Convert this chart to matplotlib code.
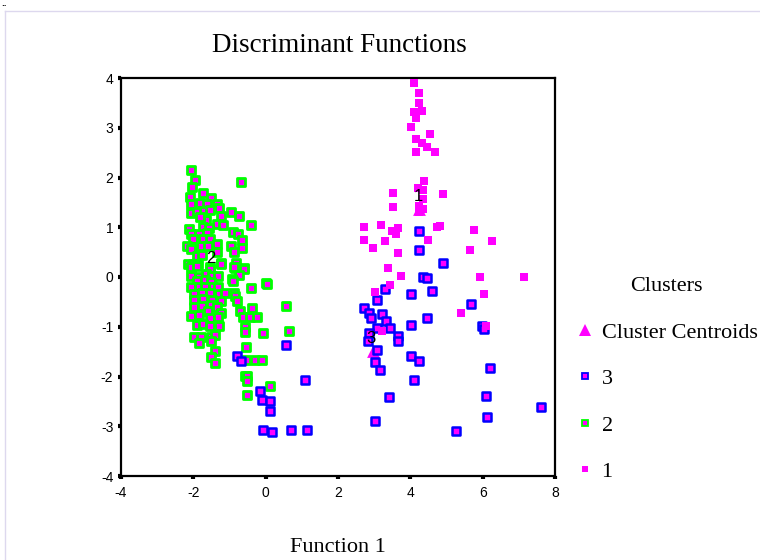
import matplotlib
matplotlib.use("Agg")
import matplotlib.pyplot as plt
from matplotlib.lines import Line2D

# ---------------- data ----------------
cluster1_f1 = [4.09, 4.25, 4.25, 4.09, 4.31, 4.17, 4.01, 4.53, 4.17, 4.31, 4.45, 4.17, 4.67,
               4.39, 4.20, 4.34, 3.51, 4.89, 4.34, 3.51, 4.23, 4.34, 4.25,
               2.71, 3.20, 3.48, 3.67, 3.59, 2.73, 3.31, 4.75, 4.50, 2.96, 3.65, 3.37, 3.73,
               3.45, 3.01, 3.23,
               4.81, 5.77, 6.27, 5.64, 5.94, 7.15, 6.05, 5.39, 6.10]
cluster1_f2 = [3.90, 3.70, 3.50, 3.32, 3.34, 3.20, 3.02, 2.87, 2.77, 2.69, 2.61, 2.51, 2.51,
               1.93, 1.79, 1.75, 1.69, 1.67, 1.57, 1.41, 1.43, 1.37, 1.31,
               1.01, 1.05, 0.92, 0.98, 0.86, 0.74, 0.72, 1.01, 0.74, 0.58, 0.48, 0.18, 0.02,
               -0.16, -0.30, -1.09,
               1.03, 0.94, 0.72, 0.54, 0.00, 0.00, -0.34, -0.72, -0.98]

cluster2_f1 = [-2.07, -1.96, -2.04, -0.69, -2.10, -1.74, -1.52, -2.07, -1.82, -1.63, -1.35, -1.30,
               -2.07, -1.91, -1.71, -1.55, -0.97, -0.75, -1.24, -1.66, -1.82, -1.35, -1.19, -0.41,
               -1.74, -1.57, -2.13, -0.91, -0.77, -0.66, -2.07, -1.85, -1.63, -2.02, -1.74, -1.55,
               -1.35, -0.97, -2.18, -1.99, -1.80, -1.60, -0.66, -0.88, -1.35, -2.07, -1.91, -1.77,
               -1.24, -0.83, -2.15, -2.02, -1.88, -1.55, -0.86, -0.61,
               -2.07, -1.91, -1.55, -1.24, -0.88, -0.61, -2.07, -1.85, -1.66, -1.49, -1.33, -0.75,
               -0.94, -1.91, -1.69, -1.52, -2.07, -1.85, -1.69, -1.46, -1.33, -0.41, 0.00, -1.99,
               -1.77, -1.55, -1.30, -1.13, -0.88, -1.99, -1.74, -1.49, -1.24, -0.86, -0.80, -1.99,
               -1.77, -1.52, -1.35, -0.39, -0.72, -2.07, -1.85, -1.60, -1.24, -0.64, -0.44, -0.25,
               -1.91, -1.55, -1.33, -1.74, -1.55, -1.30, -0.58, -0.58, -0.08, -1.99, -1.80, -1.52,
               -1.41, -1.85, -1.52, -0.55, -1.41, -1.52, -1.41, -0.55, -0.30, -0.11,
               0.03, 0.55, -0.91, 0.64, -0.58, -0.52, -0.52, 0.11, -0.52]
cluster2_f2 = [2.15, 1.95, 1.81, 1.91, 1.61, 1.69, 1.59, 1.47, 1.49, 1.47, 1.47, 1.39,
               1.29, 1.31, 1.33, 1.35, 1.31, 1.23, 1.23, 1.15, 1.21, 1.07, 1.05, 1.05,
               1.01, 0.98, 0.96, 0.90, 0.86, 0.74, 0.86, 0.86, 0.88, 0.76, 0.76, 0.76,
               0.66, 0.62, 0.62, 0.60, 0.62, 0.62, 0.58, 0.50, 0.50, 0.56, 0.42, 0.44,
               0.28, 0.28, 0.26, 0.26, 0.26, 0.20, 0.18, 0.18,
               0.20, 0.22, 0.16, 0.26, 0.20, 0.16, 0.02, 0.00, 0.06, 0.02, 0.02, 0.04,
               -0.04, -0.08, -0.06, -0.10, -0.20, -0.20, -0.20, -0.20, -0.20, -0.22, -0.12, -0.34,
               -0.32, -0.32, -0.34, -0.32, -0.32, -0.46, -0.44, -0.46, -0.48, -0.38, -0.48, -0.60,
               -0.58, -0.56, -0.60, -0.62, -0.68, -0.78, -0.76, -0.68, -0.72, -0.80, -0.80, -0.80,
               -0.96, -0.82, -0.80, -0.94, -0.98, -0.98, -1.01, -1.11, -1.13, -1.21, -1.21, -1.21,
               -1.17, -1.33, -1.29, -1.41, -1.49, -1.61, -1.73, -1.67, -1.67, -1.67,
               -0.14, -0.58, -0.08, -1.09, -1.99, -1.99, -2.09, -2.19, -2.37]

cluster3_f1 = [-0.80, -0.69, 0.55, 1.08, -0.17, -0.11, 0.11, 0.11, -0.08, 0.17, 0.69, 1.13,
               4.23, 4.23, 4.89, 4.34, 4.45, 3.31, 4.59, 4.03, 3.07, 2.73, 2.85, 2.90, 3.23,
               3.34, 3.45, 3.07, 2.87, 2.82, 3.67, 3.67, 4.01, 4.45, 3.07, 3.01, 3.15, 4.03,
               4.25, 4.09, 3.40, 3.01, 5.69, 5.97, 6.05, 6.19, 6.10, 6.13, 7.60, 5.25]
cluster3_f2 = [-1.59, -1.69, -1.37, -2.07, -2.29, -2.47, -2.49, -2.69, -3.08, -3.12, -3.08, -3.08,
               0.92, 0.54, 0.28, 0.00, -0.02, -0.24, -0.28, -0.34, -0.46, -0.62, -0.72, -0.82, -0.74,
               -0.88, -1.03, -1.03, -1.13, -1.29, -1.19, -1.29, -0.96, -0.82, -1.47, -1.71, -1.87, -1.59,
               -1.69, -2.07, -2.41, -2.89, -0.54, -0.98, -1.05, -1.83, -2.39, -2.81, -2.61, -3.10]

centroid_labels = ["1", "2", "3"]
centroid_f1 = [4.25, -1.49, 2.96]
centroid_f2 = [1.37, 0.12, -1.49]

x_ticks = [-4, -2, 0, 2, 4, 6, 8]
y_ticks = [-4, -3, -2, -1, 0, 1, 2, 3, 4]
legend_labels = ["Cluster Centroids", "3", "2", "1"]

MAGENTA = "#ff00ff"
GREEN = "#00ff00"
BLUE = "#0000ff"

# ---------------- figure ----------------
fig = plt.figure(figsize=(7.6, 5.6), dpi=100)
ax = fig.add_axes([121 / 760, 1 - 476 / 560, (555 - 121) / 760, (476 - 78) / 560])

ax.scatter(centroid_f1, centroid_f2, marker="^", s=85, color=MAGENTA, zorder=2, linewidths=0)
ax.scatter(cluster2_f1, cluster2_f2, marker="s", s=30, facecolor=MAGENTA,
           edgecolor=GREEN, linewidths=2.0, zorder=3)
ax.scatter(cluster3_f1, cluster3_f2, marker="s", s=30, facecolor=MAGENTA,
           edgecolor=BLUE, linewidths=1.8, zorder=4)
ax.scatter(cluster1_f1, cluster1_f2, marker="s", s=32, color=MAGENTA, linewidths=0, zorder=5)

for lab, cx, cy in zip(centroid_labels, centroid_f1, centroid_f2):
    ax.annotate(lab, (cx, cy), xytext=(-1, 9), textcoords="offset points",
                ha="center", va="center", fontsize=12, family="Liberation Sans", zorder=6)

ax.set_xlim(-4, 8)
ax.set_ylim(-4, 4)
ax.set_xticks(x_ticks)
ax.set_yticks(y_ticks)
ax.set_xticklabels([str(t) for t in x_ticks], family="Liberation Sans", fontsize=10)
ax.set_yticklabels([str(t) for t in y_ticks], family="Liberation Sans", fontsize=10)
ax.tick_params(direction="out", length=2.5, width=3, color="black", pad=3)
ax.tick_params(axis="x", pad=5)
for sp in ax.spines.values():
    sp.set_linewidth(1.6)
    sp.set_color("black")

fig.text(339 / 760, 1 - 46 / 560, "Discriminant Functions", ha="center", va="center",
         fontsize=19.5, family="Liberation Serif")
fig.text(338 / 760, 1 - 547 / 560, "Function 1", ha="center", va="center",
         fontsize=16, family="Liberation Serif")

handles = [
    Line2D([], [], ls="none", marker="^", markersize=9, color=MAGENTA, markeredgewidth=0),
    Line2D([], [], ls="none", marker="s", markersize=4.5, markerfacecolor=MAGENTA,
           markeredgecolor=BLUE, markeredgewidth=1.3),
    Line2D([], [], ls="none", marker="s", markersize=4.5, markerfacecolor=MAGENTA,
           markeredgecolor=GREEN, markeredgewidth=1.3),
    Line2D([], [], ls="none", marker="s", markersize=5, color=MAGENTA, markeredgewidth=0),
]
leg = fig.legend(handles, legend_labels, title="Clusters", loc="upper left",
                 bbox_to_anchor=(576 / 760, 1 - 277 / 560), bbox_transform=fig.transFigure,
                 frameon=False, borderpad=0, borderaxespad=0, handlelength=0.8,
                 handletextpad=0.35, labelspacing=1.17,
                 prop={"family": "Liberation Serif", "size": 16},
                 title_fontproperties={"family": "Liberation Serif", "size": 16})
leg._legend_box.align = "center"

# faint page border and small marks at the corner
fig.add_artist(Line2D([5 / 760, 1], [1 - 11 / 560, 1 - 11 / 560], transform=fig.transFigure,
                      color="#ddd8ee", lw=1))
fig.add_artist(Line2D([5 / 760, 5 / 760], [0, 1 - 11 / 560], transform=fig.transFigure,
                      color="#ddd8ee", lw=1))
fig.text(1 / 760, 1 - 1 / 560, "..", ha="left", va="top", fontsize=5, fontweight="bold",
         family="DejaVu Sans")

fig.savefig("out.png", dpi=100)
